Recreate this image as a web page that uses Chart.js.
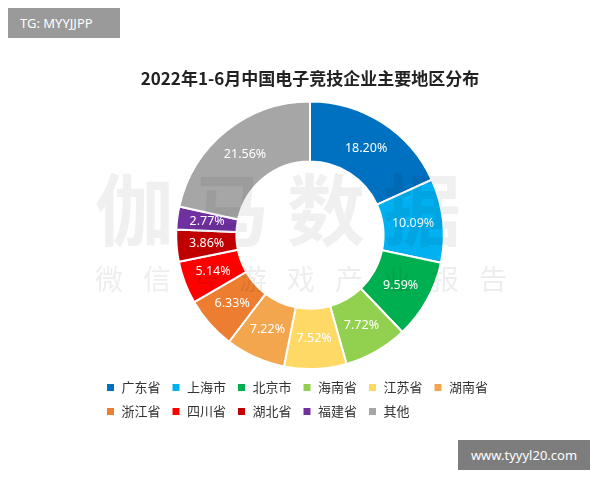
<!DOCTYPE html>
<html><head><meta charset="utf-8">
<script src="https://cdn.jsdelivr.net/npm/chart.js@4"></script>
<style>
html,body{margin:0;padding:0;background:#fff;}
#wrap{position:relative;width:600px;height:480px;}
#tg{position:absolute;left:8px;top:8px;width:112px;height:30px;background:#9a9a9a;color:#fff;font:13px "Noto Sans",sans-serif;line-height:30px;padding-left:12px;box-sizing:border-box;}
#url{position:absolute;left:458px;top:440px;width:132px;height:30px;background:#7d7d7d;color:#fff;font:13px "Noto Sans",sans-serif;line-height:30px;text-align:center;}
#wm1{position:absolute;left:95px;top:150px;font:bold 78px "Noto Sans CJK SC";color:rgba(0,0,0,0.06);letter-spacing:18px;}
#wm2{position:absolute;left:95px;top:258px;font:28px "Noto Sans CJK SC";color:rgba(0,0,0,0.07);letter-spacing:20px;}
</style></head><body>
<div id="wrap">
<canvas id="c" width="600" height="480"></canvas>
<div id="wm1">伽马数据</div>
<div id="wm2">微信号游戏产业报告</div>
<div id="tg">TG: MYYJJPP</div>
<div id="url">www.tyyyl20.com</div>
</div>
<script>
const categories=['广东省','上海市','北京市','海南省','江苏省','湖南省','浙江省','四川省','湖北省','福建省','其他'];
const values=[18.20,10.09,9.59,7.72,7.52,7.22,6.33,5.14,3.86,2.77,21.56];
const colors=['#0070C0','#00B0F0','#00B050','#92D050','#FFD966','#F4A64E','#ED7D31','#FF0000','#C00000','#7030A0','#A6A6A6'];
const labelPlugin={id:'lbl',afterDatasetsDraw(chart){
  const ctx=chart.ctx;const meta=chart.getDatasetMeta(0);
  ctx.save();ctx.font='12.5px "Noto Sans", sans-serif';ctx.fillStyle='#fff';ctx.textAlign='center';ctx.textBaseline='middle';
  meta.data.forEach((a,i)=>{const p=a.tooltipPosition();ctx.fillText(values[i].toFixed(2)+'%',p.x,p.y);});
  ctx.restore();}};
new Chart(document.getElementById('c'),{type:'doughnut',
 data:{labels:categories,datasets:[{data:values,backgroundColor:colors,borderColor:'#fff',borderWidth:2}]},
 options:{responsive:false,animation:false,cutout:'55%',
  layout:{padding:{top:68,bottom:52,left:95,right:75}},
  plugins:{tooltip:{enabled:false},
   title:{display:true,text:'2022年1-6月中国电子竞技企业主要地区分布',color:'#222',font:{size:17,weight:'bold',family:'"Noto Sans CJK SC"'},padding:{top:0,bottom:12}},
   legend:{position:'bottom',align:'start',labels:{boxWidth:9,boxHeight:9,padding:11,color:'#333',font:{size:13,family:'"Noto Sans CJK SC"'}}}}},
 plugins:[labelPlugin]});
</script>
</body></html>
